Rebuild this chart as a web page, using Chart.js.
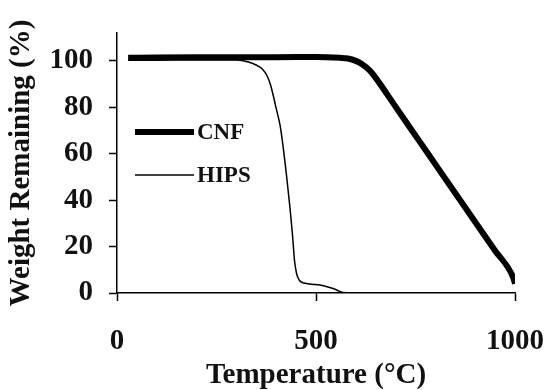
<!DOCTYPE html>
<html>
<head>
<meta charset="utf-8">
<script src="https://cdn.jsdelivr.net/npm/chart.js@4/dist/chart.umd.min.js"></script>
<style>
  html, body { margin: 0; padding: 0; background: #fff; }
  #wrap { width: 548px; height: 390px; }
</style>
</head>
<body>
<div id="wrap"><canvas id="grafico"></canvas></div>
<script>
// valores
const tempCNF = [28, 100, 200, 300, 400, 500, 560, 580, 600, 615, 636, 660, 678, 719, 761, 800, 854, 900, 950, 995, 1000];
const pesoCNF = [101.3, 101.5, 101.6, 101.6, 101.6, 101.7, 101.3, 101, 100, 98.6, 95.7, 90.3, 85.8, 75.5, 65.1, 55.4, 42, 30.6, 18.2, 6.9, 4];

const tempHIPS = [28, 100, 200, 300, 330, 352, 365, 377, 385, 392, 400, 410, 417, 427, 435, 441, 446, 451, 458, 470, 490, 510, 530, 545, 558, 568, 600];
const pesoHIPS = [100.3, 100.3, 100.4, 100.4, 99.5, 98, 96.5, 93.6, 90, 85.5, 79.5, 72, 63.5, 49, 36, 25, 14, 8.5, 5.5, 4.3, 3.8, 3.4, 2.6, 1.8, 0.8, 0.2, 0];

const ticksX = [0, 500, 1000];
const ticksY = [0, 20, 40, 60, 80, 100];

const pontos = (xs, ys) => xs.map((x, i) => ({ x: x, y: ys[i] }));

Chart.defaults.font.family = "'Liberation Serif', 'Times New Roman', serif";
Chart.defaults.font.weight = 'bold';
Chart.defaults.color = '#111';

// legenda dentro da área do gráfico
const legendaInterna = {
    id: 'legendaInterna',
    afterDatasetsDraw(chart) {
        const ctx = chart.ctx;
        const area = chart.chartArea;
        const linhas = [99, 142];
        ctx.save();
        chart.data.datasets.forEach((ds, i) => {
            const y = area.top + linhas[i];
            ctx.beginPath();
            ctx.strokeStyle = ds.borderColor;
            ctx.lineWidth = ds.borderWidth;
            ctx.moveTo(area.left + 18, y);
            ctx.lineTo(area.left + 77, y);
            ctx.stroke();
            ctx.fillStyle = '#111';
            ctx.font = "bold 23px 'Liberation Serif', serif";
            ctx.textBaseline = 'middle';
            ctx.fillText(ds.label, area.left + 80, y + 1);
        });
        ctx.restore();
    }
};

new Chart(document.getElementById('grafico').getContext('2d'), {
    type: 'line',
    data: {
        datasets: [{
            label: 'CNF',
            data: pontos(tempCNF, pesoCNF),
            borderColor: '#000',
            borderWidth: 6,
            pointRadius: 0,
            cubicInterpolationMode: 'monotone'
        }, {
            label: 'HIPS',
            data: pontos(tempHIPS, pesoHIPS),
            borderColor: '#000',
            borderWidth: 1.5,
            pointRadius: 0,
            cubicInterpolationMode: 'monotone'
        }]
    },
    options: {
        responsive: true,
        maintainAspectRatio: false,
        animation: false,
        layout: { padding: { top: 33, right: 33, left: 7, bottom: 0 } },
        plugins: {
            legend: { display: false },
            tooltip: { enabled: false }
        },
        scales: {
            x: {
                type: 'linear',
                min: 0,
                max: 1000,
                afterBuildTicks: s => { s.ticks = ticksX.map(v => ({ value: v })); },
                afterFit: s => { s.height = 97; s.paddingLeft = 0; s.paddingRight = 0; },
                grid: { drawOnChartArea: false, tickLength: 8, color: '#000', tickWidth: 1.5 },
                border: { color: '#000', width: 1.5 },
                ticks: { font: { size: 29, lineHeight: 1 }, padding: 26, maxRotation: 0, callback: v => String(v) },
                title: { display: true, text: 'Temperature (°C)', font: { size: 29, lineHeight: 1 }, padding: { top: 5, bottom: 0 } }
            },
            y: {
                min: 0,
                max: 112,
                afterBuildTicks: s => { s.ticks = ticksY.map(v => ({ value: v })); },
                afterFit: s => { s.width = 110; s.paddingTop = 0; s.paddingBottom = 0; },
                grid: { drawOnChartArea: false, tickLength: 8, color: '#000', tickWidth: 1.5 },
                border: { color: '#000', width: 1.5 },
                ticks: { font: { size: 29, lineHeight: 1 }, padding: 16 },
                title: { display: true, text: 'Weight Remaining (%)', font: { size: 29, lineHeight: 1 }, padding: { top: 0, bottom: 13 } }
            }
        }
    },
    plugins: [legendaInterna]
});
</script>
</body>
</html>
